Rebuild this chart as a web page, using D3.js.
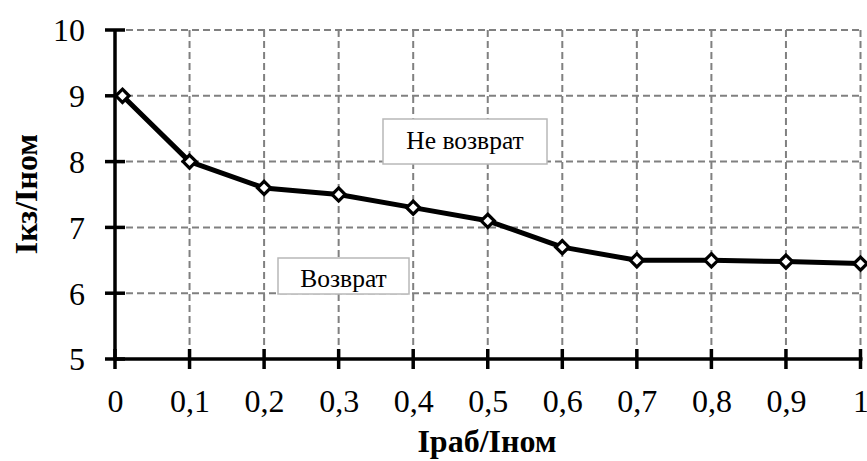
<!DOCTYPE html>
<html>
<head>
<meta charset="utf-8">
<script src="https://cdn.jsdelivr.net/npm/d3@7"></script>
<style>
  html, body { margin: 0; padding: 0; background: #fff; }
  svg { display: block; }
  text { font-family: "Liberation Serif", "Times New Roman", serif; fill: #000; }
</style>
</head>
<body>
<svg id="chart" width="867" height="461"></svg>
<script>
// Operating current ratio vs. short-circuit current ratio boundary
const xValues = [0.01, 0.1, 0.2, 0.3, 0.4, 0.5, 0.6, 0.7, 0.8, 0.9, 1.0];
const yValues = [9.0, 8.0, 7.6, 7.5, 7.3, 7.1, 6.7, 6.5, 6.5, 6.48, 6.45];
const xTicks = [0, 0.1, 0.2, 0.3, 0.4, 0.5, 0.6, 0.7, 0.8, 0.9, 1];
const yTicks = [5, 6, 7, 8, 9, 10];
const xTitle = "Iраб/Iном";
const yTitle = "Iкз/Iном";
const regionLabels = ["Не возврат", "Возврат"];

const svg = d3.select("#chart");
const x = d3.scaleLinear().domain([0, 1]).range([115, 860.5]);
const y = d3.scaleLinear().domain([5, 10]).range([359, 30]);

const fmt = d => d === 0 ? "0" : d === 1 ? "1" : String(d).replace(".", ",");

// dashed grid
const grid = svg.append("g").attr("stroke", "#808080").attr("stroke-width", 2)
  .attr("stroke-dasharray", "7,4").attr("fill", "none");
grid.selectAll("line.v").data(xTicks.filter(d => d > 0)).join("line")
  .attr("x1", d => x(d)).attr("x2", d => x(d)).attr("y1", y(10)).attr("y2", y(5));
grid.selectAll("line.h").data(yTicks.filter(d => d > 5)).join("line")
  .attr("x1", x(0)).attr("x2", x(1)).attr("y1", d => y(d)).attr("y2", d => y(d));

// region labels with boxes
function labelBox(text, x0, y0, w, h, baseline) {
  const g = svg.append("g");
  g.append("rect").attr("x", x0).attr("y", y0).attr("width", w).attr("height", h)
    .attr("fill", "#fff").attr("stroke", "#b8b8b8").attr("stroke-width", 1.5);
  g.append("text").attr("x", x0 + w / 2).attr("y", y0 + baseline).attr("text-anchor", "middle")
    .attr("font-size", 25.5).text(text);
}
labelBox(regionLabels[0], 383, 119, 164, 45, 30);
labelBox(regionLabels[1], 278, 258, 131, 36, 29);

// axes
const xAxis = d3.axisBottom(x).tickValues(xTicks).tickSize(0).tickFormat(fmt);
const gx = svg.append("g").attr("transform", `translate(0,${y(5)})`).call(xAxis);
gx.select(".domain").remove();
gx.selectAll("text").attr("font-size", 32).attr("dy", 0).attr("y", 53)
  .style("font-family", "Liberation Serif, serif");

const yAxis = d3.axisLeft(y).tickValues(yTicks).tickSize(0).tickFormat(d3.format("d"));
const gy = svg.append("g").attr("transform", `translate(${x(0)},0)`).call(yAxis);
gy.select(".domain").remove();
gy.selectAll("text").attr("font-size", 32).attr("x", -30).attr("dy", "0.34em")
  .style("font-family", "Liberation Serif, serif");

const axisLines = svg.append("g").attr("stroke", "#000");
axisLines.append("line").attr("x1", x(0)).attr("x2", x(1) + 2).attr("y1", y(5)).attr("y2", y(5)).attr("stroke-width", 3.5);
axisLines.append("line").attr("x1", x(0)).attr("x2", x(0)).attr("y1", y(10) - 1).attr("y2", y(5) + 1.5).attr("stroke-width", 3.5);
axisLines.selectAll("line.xt").data(xTicks).join("line")
  .attr("x1", d => x(d)).attr("x2", d => x(d)).attr("y1", y(5) - 10).attr("y2", y(5) + 10).attr("stroke-width", 3.5);
axisLines.selectAll("line.yt").data(yTicks).join("line")
  .attr("x1", x(0) - 10).attr("x2", x(0) + 10).attr("y1", d => y(d)).attr("y2", d => y(d)).attr("stroke-width", 3.5);

// series line
const pts = xValues.map((v, i) => [v, yValues[i]]);
svg.append("path").datum(pts)
  .attr("fill", "none").attr("stroke", "#000").attr("stroke-width", 5).attr("stroke-linejoin", "round")
  .attr("d", d3.line().x(d => x(d[0])).y(d => y(d[1])));

// diamond markers
const diamond = d3.symbol().type(d3.symbolDiamond2).size(110);
svg.append("g").selectAll("path").data(pts).join("path")
  .attr("transform", d => `translate(${x(d[0])},${y(d[1])})`)
  .attr("d", diamond).attr("fill", "#fff").attr("stroke", "#000").attr("stroke-width", 3.2);

// axis titles
svg.append("text").attr("x", 487).attr("y", 452).attr("text-anchor", "middle")
  .attr("font-size", 32).attr("font-weight", "bold").text(xTitle);
svg.append("text").attr("transform", `translate(37,194) rotate(-90)`).attr("text-anchor", "middle")
  .attr("font-size", 32).attr("font-weight", "bold").text(yTitle);
</script>
</body>
</html>
